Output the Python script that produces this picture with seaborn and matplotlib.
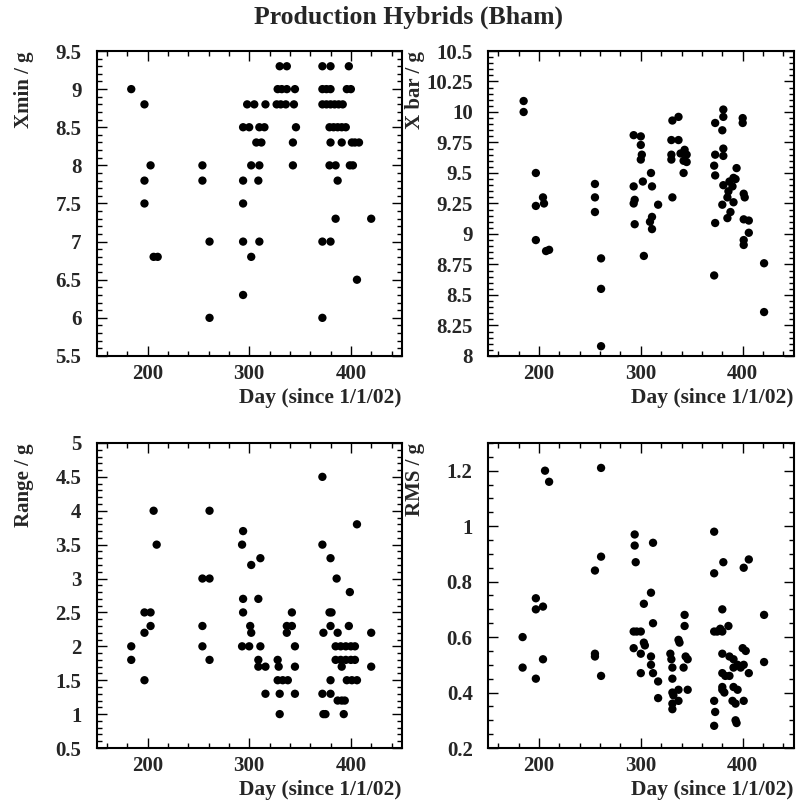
import numpy as np
import pandas as pd
import seaborn as sns
from matplotlib import pyplot as plt
from matplotlib.ticker import MultipleLocator, FuncFormatter

# Xmin per hybrid
xmin_day = [184, 197, 197, 197, 203, 206, 210,
            254, 254, 261, 261,
            294, 300, 298, 305, 294, 294, 294, 294, 302, 302,
            310, 315, 307, 312, 310, 309, 310, 316,
            330, 337, 328, 332, 337, 327, 331, 336, 345, 344, 346, 343, 343,
            372, 380, 372, 376, 380, 372, 376, 380, 384, 388, 392,
            379, 383, 387, 391, 395, 380, 391, 379, 385, 387, 385, 372, 380, 372,
            398, 396, 400, 401, 404, 408, 399, 402, 406, 420]
xmin_val = [9.0, 8.8, 7.8, 7.5, 8.0, 6.8, 6.8,
            8.0, 7.8, 7.0, 6.0,
            8.5, 8.5, 8.8, 8.8, 7.8, 7.5, 7.0, 6.3, 8.0, 6.8,
            8.5, 8.5, 8.3, 8.3, 8.0, 7.8, 7.0, 8.8,
            9.3, 9.3, 9.0, 9.0, 9.0, 8.8, 8.8, 8.8, 9.0, 8.8, 8.5, 8.3, 8.0,
            9.3, 9.3, 9.0, 9.0, 9.0, 8.8, 8.8, 8.8, 8.8, 8.8, 8.8,
            8.5, 8.5, 8.5, 8.5, 8.5, 8.3, 8.3, 8.0, 8.0, 7.8, 7.3, 7.0, 7.0, 6.0,
            9.3, 9.0, 9.0, 8.3, 8.3, 8.3, 8.0, 8.0, 6.5, 7.3]

# X bar per hybrid
xbar_day = [185, 185, 197, 197, 197, 204, 205, 207, 210,
            255, 255, 255, 261, 261, 261,
            293, 293, 294, 293, 294,
            300, 300, 301, 300, 302, 303,
            310, 311, 311, 309, 311, 317,
            330, 330, 330, 331, 331,
            337, 337, 339, 343, 345, 345, 342, 342,
            372, 373, 373, 372, 373, 373,
            381, 381, 380, 381, 381, 381, 380,
            394, 391, 387, 390, 393, 386, 385, 391, 388, 385,
            400, 400, 401, 402, 401, 406, 406, 401, 401,
            421, 421]
xbar_val = [10.09, 10.0, 9.5, 9.23, 8.95, 9.30, 9.25, 8.86, 8.87,
            9.41, 9.30, 9.18, 8.80, 8.55, 8.08,
            9.81, 9.39, 9.28, 9.25, 9.08,
            9.80, 9.73, 9.65, 9.61, 9.43, 8.82,
            9.50, 9.39, 9.14, 9.10, 9.04, 9.24,
            9.65, 9.61, 9.77, 9.93, 9.30,
            9.96, 9.77, 9.66, 9.69, 9.65, 9.59, 9.50, 9.60,
            8.66, 9.09, 9.48, 9.56, 9.65, 9.91,
            10.02, 9.96, 9.85, 9.70, 9.64, 9.40, 9.24,
            9.54, 9.46, 9.43, 9.39, 9.45, 9.35, 9.30, 9.26, 9.18, 9.13,
            9.95, 9.91, 9.33, 9.30, 9.12, 9.11, 9.01, 8.95, 8.91,
            8.76, 8.36]

# Range per hybrid
range_day = [184, 184, 197, 197, 203, 197, 203, 206, 209,
             254, 261, 254, 254, 261, 261,
             294, 293, 294, 294, 293, 300, 301, 302, 302, 309, 311, 311, 309, 309, 316, 316,
             328, 329, 328, 333, 338, 330, 330, 337, 342, 337, 342, 345, 345, 345,
             372, 372, 373, 372, 373, 375, 380, 379, 381, 380, 380, 380, 386, 387,
             385, 390, 395, 400, 404, 385, 390, 395, 400, 404, 391, 387, 391, 394, 393,
             398, 396, 401, 406, 399, 406, 420, 420]
range_val = [2.0, 1.8, 2.2, 2.5, 2.5, 1.5, 2.3, 4.0, 3.5,
             3.0, 3.0, 2.3, 2.0, 4.0, 1.8,
             3.7, 3.5, 2.7, 2.5, 2.0, 2.0, 2.3, 2.2, 3.2, 2.7, 3.3, 2.0, 1.8, 1.7, 1.7, 1.3,
             1.8, 1.7, 1.5, 1.5, 1.5, 1.3, 1.0, 2.3, 2.3, 2.2, 2.5, 2.0, 1.7, 1.3,
             4.5, 3.5, 2.2, 1.3, 1.0, 1.0, 3.3, 2.5, 2.5, 2.3, 1.5, 1.3, 3.0, 2.2,
             2.0, 2.0, 2.0, 2.0, 2.0, 1.8, 1.8, 1.8, 1.8, 1.8, 1.7, 1.2, 1.2, 1.2, 1.0,
             2.3, 1.5, 1.5, 1.5, 2.8, 3.8, 2.2, 1.7]

# RMS per hybrid
rms_day = [184, 184, 197, 197, 197, 204, 204, 206, 210,
           255, 255, 255, 261, 261, 261,
           294, 294, 295, 293, 296, 300, 293, 300, 300, 303, 303, 304,
           312, 310, 312, 310, 310, 312, 317, 317,
           329, 330, 331, 331, 331, 332, 331, 331, 337, 338, 337, 337,
           343, 343, 344, 346, 342, 346,
           372, 372, 372, 375, 372, 373, 372,
           380, 381, 378, 380, 386, 380, 380, 383, 380, 380, 382,
           387, 391, 395, 391, 387, 391, 395, 390, 393, 393, 394,
           401, 406, 400, 403, 401, 398, 406, 401,
           421, 421]
rms_val = [0.60, 0.49, 0.74, 0.70, 0.45, 0.71, 0.52, 1.20, 1.16,
           0.84, 0.54, 0.53, 1.21, 0.89, 0.46,
           0.97, 0.93, 0.87, 0.62, 0.62, 0.62, 0.56, 0.54, 0.47, 0.72, 0.58, 0.57,
           0.94, 0.76, 0.65, 0.53, 0.50, 0.47, 0.44, 0.38,
           0.54, 0.52, 0.49, 0.45, 0.40, 0.39, 0.36, 0.34, 0.59, 0.58, 0.41, 0.37,
           0.68, 0.64, 0.53, 0.52, 0.49, 0.41,
           0.98, 0.83, 0.62, 0.62, 0.37, 0.33, 0.28,
           0.70, 0.87, 0.63, 0.62, 0.64, 0.54, 0.47, 0.46, 0.42, 0.41, 0.40,
           0.53, 0.52, 0.50, 0.49, 0.46, 0.42, 0.41, 0.37, 0.36, 0.30, 0.29,
           0.85, 0.88, 0.56, 0.55, 0.50, 0.49, 0.47, 0.37,
           0.68, 0.51]

sns.set_style("ticks")
plt.rcParams['font.family'] = ['Liberation Serif', 'DejaVu Serif']
plt.rcParams['font.weight'] = 'bold'
plt.rcParams['axes.labelweight'] = 'bold'

fig = plt.figure(figsize=(8.01, 8.07), dpi=100)

panels = [
    # days, values, ylabel, ylim, major, minor, axes rect
    (xmin_day, xmin_val, "Xmin / g", (5.5, 9.5), 0.5, 0.1, [0.1207, 0.5589, 0.3808, 0.3779]),
    (xbar_day, xbar_val, "X bar / g", (8.0, 10.5), 0.25, 0.05, [0.6092, 0.5589, 0.3816, 0.3779]),
    (range_day, range_val, "Range / g", (0.5, 5.0), 0.5, 0.1, [0.1207, 0.0731, 0.3808, 0.3780]),
    (rms_day, rms_val, "RMS / g", (0.2, 1.3), 0.2, 0.05, [0.6092, 0.0731, 0.3816, 0.3780]),
]

fmt = FuncFormatter(lambda v, p: f"{v:g}")

for days, vals, ylab, ylim, major, minor, rect in panels:
    ax = fig.add_axes(rect)
    df = pd.DataFrame({"day": days, "val": vals})
    sns.scatterplot(data=df, x="day", y="val", ax=ax, color="black",
                    s=36, edgecolor="none", legend=False)
    ax.set_xlim(150, 450)
    ax.set_ylim(*ylim)
    ax.xaxis.set_major_locator(MultipleLocator(100))
    ax.xaxis.set_minor_locator(MultipleLocator(20))
    ax.yaxis.set_major_locator(MultipleLocator(major))
    ax.yaxis.set_minor_locator(MultipleLocator(minor))
    ax.yaxis.set_major_formatter(fmt)
    ax.tick_params(which="both", direction="in", top=True, right=True,
                   labelsize=15, width=1.0, color="black")
    ax.tick_params(which="major", length=7)
    ax.tick_params(which="minor", length=3.5)
    ax.tick_params(axis="y", pad=11)
    ax.tick_params(axis="x", pad=6)
    for sp in ax.spines.values():
        sp.set_linewidth(1.5)
        sp.set_color("black")
    ax.set_ylabel(ylab, fontsize=15, loc="top")
    ax.yaxis.set_label_coords(-0.205, 1.0)
    ax.set_xlabel("Day (since 1/1/02)", fontsize=15.5, loc="right")
    ax.xaxis.set_label_coords(1.0, -0.105)

fig.text(0.51, 0.979, "Production Hybrids (Bham)", ha="center", va="center",
         fontsize=18.5, fontweight="bold")

fig.savefig("out.png", dpi=100)
